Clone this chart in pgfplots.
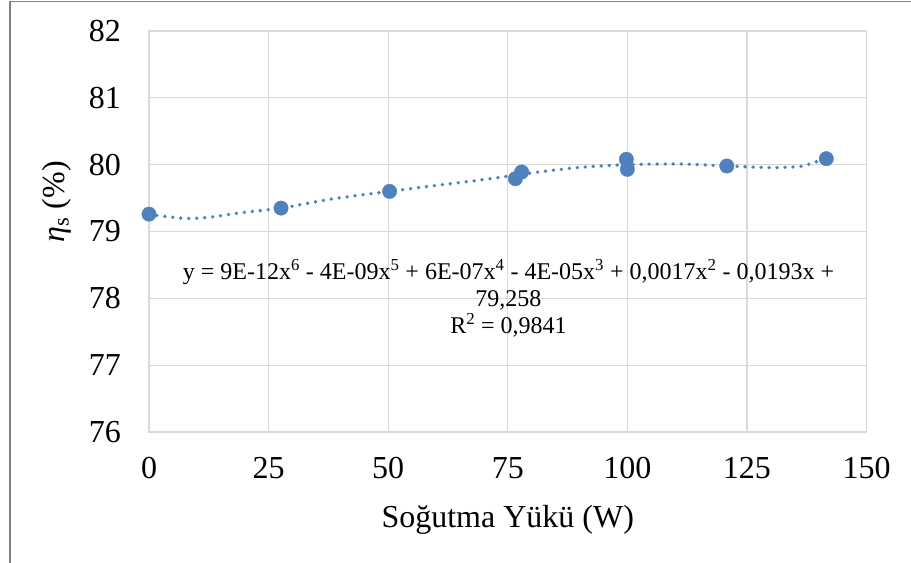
\documentclass[border=0pt]{standalone}
\usepackage{fontspec}
\setmainfont{Liberation Serif}
\usepackage{pgfplots}
\pgfplotsset{compat=1.18}
\definecolor{ptblue}{HTML}{4F81BD}
\definecolor{gridgray}{HTML}{D9D9D9}
\definecolor{framegray}{HTML}{808080}
\begin{document}
\begin{tikzpicture}
\useasboundingbox (0,0) rectangle (911bp,563bp);
\begin{axis}[
  at={(149bp,131bp)}, anchor=south west,
  scale only axis, width=717.5bp, height=401bp,
  xmin=0, xmax=150, ymin=76, ymax=82,
  xtick={0,25,...,150}, ytick={76,77,...,82},
  grid=major, major grid style={gridgray, line width=1.3bp},
  axis line style={gridgray, line width=1.3bp},
  major tick length=0pt,
  tick label style={font=\fontsize{32bp}{38bp}\selectfont, /pgf/number format/assume math mode=true, inner sep=0pt},
  yticklabel style={anchor=east, xshift=-28bp},
  xticklabel style={anchor=north, yshift=-25bp},
  label style={font=\fontsize{32bp}{38bp}\selectfont, inner sep=0pt},
  xlabel={Soğutma Yükü (W)},
  xlabel style={at={(axis description cs:0.5,-0.2195)}, anchor=center},
  ylabel={\textit{η}\textsubscript{s} (\%)},
  ylabel style={at={(axis description cs:-0.128,0.574)}, anchor=center},
  clip=false,
]
\addplot[ptblue, line width=3.8bp, dash pattern=on 0bp off 8bp, line cap=round, smooth, tension=0.5] coordinates {
(0,79.26) (2.9,79.23) (7.9,79.195) (12.8,79.215) (19.7,79.285) (27.6,79.35) (38.5,79.49) (50.3,79.60) (56.7,79.66) (69.2,79.77) (80.3,79.88) (90.2,79.96) (100,80.0) (111,80.01) (120.8,79.98) (130.5,79.955) (136.2,79.975) (138.9,80.03) (141.6,80.09)
};
\addplot[only marks, mark=*, mark size=7.2bp, ptblue, mark options={draw=ptblue, fill=ptblue}] coordinates {
(0,79.26) (27.6,79.35) (50.3,79.60) (76.6,79.79) (77.9,79.89) (99.8,80.08) (100,79.93) (120.8,79.98) (141.6,80.09)
};
\node[align=center, font=\fontsize{24bp}{27bp}\selectfont, inner sep=0pt] at (axis description cs:0.501,0.334)
  {y = 9E-12x\textsuperscript{6} - 4E-09x\textsuperscript{5} + 6E-07x\textsuperscript{4} - 4E-05x\textsuperscript{3} + 0,0017x\textsuperscript{2} - 0,0193x +\\ 79,258\\ R\textsuperscript{2} = 0,9841};
\end{axis}
\draw[framegray, line width=1.2bp] (10bp,-20bp) -- (10bp,561.5bp) -- (930bp,561.5bp);
\end{tikzpicture}
\end{document}
